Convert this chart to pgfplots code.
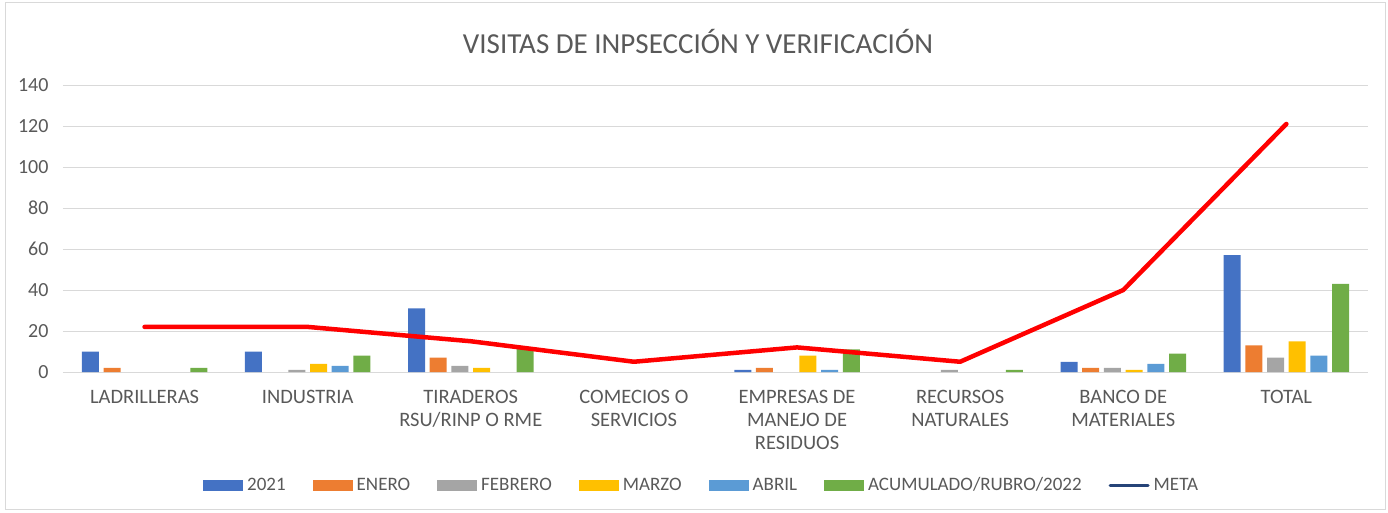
\documentclass[border=0pt]{standalone}
\usepackage{fontspec}
\setmainfont{Carlito}
\usepackage{pgfplots}
\pgfplotsset{compat=1.18}
\definecolor{cA}{HTML}{4472C4}
\definecolor{cB}{HTML}{ED7D31}
\definecolor{cC}{HTML}{A5A5A5}
\definecolor{cD}{HTML}{FFC000}
\definecolor{cE}{HTML}{5B9BD5}
\definecolor{cF}{HTML}{70AD47}
\definecolor{navy}{HTML}{264478}
\definecolor{txt}{HTML}{595959}
\definecolor{gridc}{HTML}{D9D9D9}
\pgfplotsset{mybar/.style={fill=#1, draw=none,
  legend image code/.code={\fill[#1] (0pt,-5.5pt) rectangle (40pt,5.5pt);}}}
\begin{document}
\begin{tikzpicture}[x=1pt,y=1pt]
\useasboundingbox (-63,-140) rectangle (1325,372);
\draw[color=gridc, line width=1pt] (-57,-137) rectangle (1322,369);
\node[font=\fontsize{29}{33}\selectfont, text=txt] at (635,331) {VISITAS DE INPSECCIÓN Y VERIFICACIÓN};
\begin{axis}[at={(0,0)}, anchor=south west, scale only axis,
  width=1305pt, height=287pt,
  ymin=0, ymax=140, xmin=-0.5, xmax=7.5,
  ybar=4.7pt, bar width=17pt,
  ytick={0,20,...,140},
  ymajorgrids, grid style={draw=gridc, line width=1pt},
  axis line style={draw=none}, tick style={draw=none},
  xtick={0,...,7},
  xticklabels={LADRILLERAS, INDUSTRIA, {TIRADEROS\\RSU/RINP O RME}, {COMECIOS O\\SERVICIOS}, {EMPRESAS DE\\MANEJO DE\\RESIDUOS}, {RECURSOS\\NATURALES}, {BANCO DE\\MATERIALES}, TOTAL},
  xticklabel style={align=center, font=\fontsize{20.5}{23}\selectfont, text=txt, yshift=-10pt},
  yticklabel style={font=\fontsize{20}{22}\selectfont, text=txt, xshift=-11pt},
  /pgf/number format/assume math mode=true,
  legend columns=7,
  legend style={at={(0.489,-0.394)}, anchor=center, draw=none, fill=none,
    font=\fontsize{19}{22}\selectfont, text=txt,
    /tikz/every odd column/.append style={column sep=3pt},
    /tikz/every even column/.append style={column sep=26pt},
    nodes={inner xsep=1pt}},
  clip=false]
\addplot[mybar=cA] coordinates {(0,10) (1,10) (2,31) (3,nan) (4,1) (5,nan) (6,5) (7,57)};
\addlegendentry{2021}
\addplot[mybar=cB] coordinates {(0,2) (1,nan) (2,7) (3,nan) (4,2) (5,nan) (6,2) (7,13)};
\addlegendentry{ENERO}
\addplot[mybar=cC] coordinates {(0,nan) (1,1) (2,3) (3,nan) (4,nan) (5,1) (6,2) (7,7)};
\addlegendentry{FEBRERO}
\addplot[mybar=cD] coordinates {(0,nan) (1,4) (2,2) (3,nan) (4,8) (5,nan) (6,1) (7,15)};
\addlegendentry{MARZO}
\addplot[mybar=cE] coordinates {(0,nan) (1,3) (2,nan) (3,nan) (4,1) (5,nan) (6,4) (7,8)};
\addlegendentry{ABRIL}
\addplot[mybar=cF] coordinates {(0,2) (1,8) (2,12) (3,nan) (4,11) (5,1) (6,9) (7,43)};
\addlegendentry{ACUMULADO/RUBRO/2022}
\addplot[sharp plot, draw=red, line width=4.5pt, line join=round, line cap=round, forget plot] coordinates {(0,22) (1,22) (2,15) (3,5) (4,12) (5,5) (6,40) (7,121)};
\addlegendimage{sharp plot, draw=navy, line width=3pt, line cap=round, legend image code/.code={\draw[navy, line width=3pt, line cap=round] (1pt,0pt) -- (39pt,0pt);}}
\addlegendentry{META}
\end{axis}
\end{tikzpicture}
\end{document}
